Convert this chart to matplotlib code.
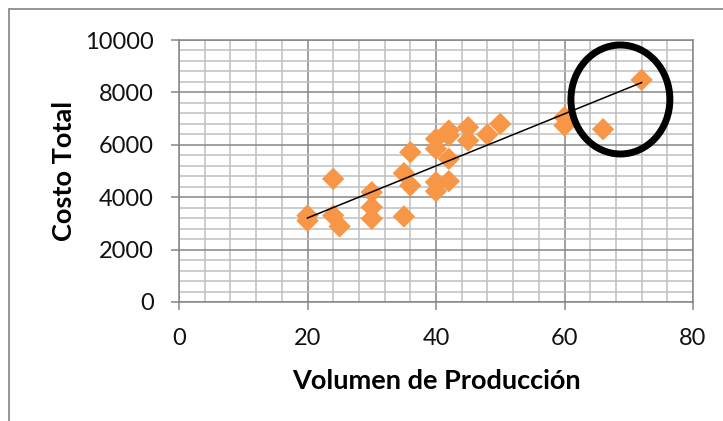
import matplotlib
matplotlib.use("Agg")
import matplotlib.pyplot as plt
import numpy as np
from matplotlib.patches import Ellipse, Rectangle
from matplotlib.ticker import MultipleLocator

plt.rcParams['font.family'] = ['Lato', 'DejaVu Sans']

volumen = [20, 20, 24, 24, 25, 30, 30, 30, 35, 35, 36, 36, 40, 40, 40, 40,
           42, 42, 42, 42, 45, 45, 48, 50, 60, 60, 66, 72]
costo = [3300, 3100, 4700, 3300, 2885, 4190, 3620, 3180, 3265, 4917, 5718, 4447,
         6226, 5845, 4574, 4231, 6544, 6353, 5464, 4612, 6670, 6162, 6390, 6798,
         7052, 6734, 6594, 8475]

x_ticks = [0, 20, 40, 60, 80]
y_ticks = [0, 2000, 4000, 6000, 8000, 10000]

fig = plt.figure(figsize=(7.23, 4.21), dpi=100)
ax = fig.add_axes([179/723, 119/421, 514/723, 262/421])

ax.set_xlim(0, 80)
ax.set_ylim(0, 10000)
ax.xaxis.set_minor_locator(MultipleLocator(4))
ax.yaxis.set_minor_locator(MultipleLocator(400))
ax.set_xticks(x_ticks)
ax.set_yticks(y_ticks)

ax.grid(which='minor', color='#BFBFBF', linewidth=1.1, zorder=0)
ax.grid(which='major', color='#868686', linewidth=1.1, zorder=0)
ax.set_axisbelow(True)
for s in ax.spines.values():
    s.set_color('#868686')
    s.set_linewidth(1.1)

ax.tick_params(which='major', direction='out', length=6, width=1.1, color='#868686',
               labelsize=17, labelcolor='#111111')
ax.tick_params(axis='x', pad=13)
ax.tick_params(axis='y', pad=12)
ax.tick_params(which='minor', length=0)

ax.scatter(volumen, costo, marker='D', s=130, color='#F79646', edgecolors='none', zorder=3)

coef = np.polyfit(volumen, costo, 1)
xs = np.array([min(volumen), max(volumen)])
ax.plot(xs, np.polyval(coef, xs), color='black', linewidth=1.1, zorder=4)

ax.add_patch(Ellipse((68.7, 7729), 15.4, 4160, fill=False, edgecolor='black',
                     linewidth=5, zorder=5, clip_on=False))

ax.set_xlabel('Volumen de Producción', fontsize=19.5, fontweight='bold', labelpad=14)
ax.set_ylabel('Costo Total', fontsize=19.5, fontweight='bold', labelpad=7)

fig.patches.append(Rectangle((9/723, -0.5), 2, 1.5 - 9/421, transform=fig.transFigure,
                             fill=False, edgecolor='#8C8C8C', linewidth=1.3))

fig.savefig('out.png', dpi=100)
